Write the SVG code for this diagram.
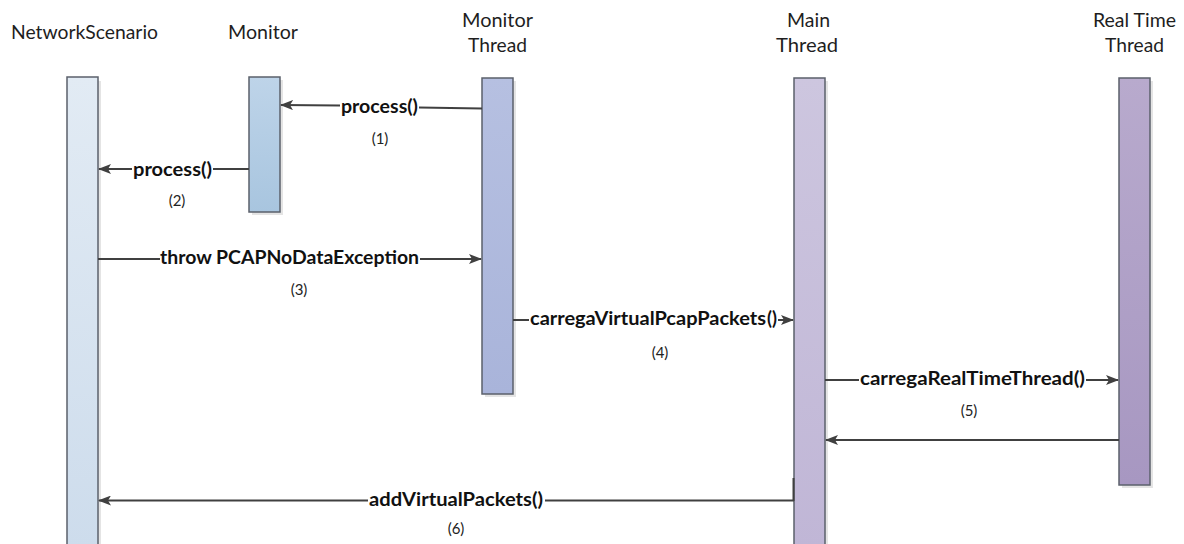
<svg xmlns="http://www.w3.org/2000/svg" width="1184" height="544" viewBox="0 0 1184 544">
  <style>
    .title { font-family: Lato, "Open Sans", "Liberation Sans", sans-serif; font-size: 19px; fill: #1e1e1e; }
    .msg { font-family: Lato, "Open Sans", "Liberation Sans", sans-serif; font-size: 19.5px; font-weight: bold; fill: #111; }
    .num { font-family: Lato, "Open Sans", "Liberation Sans", sans-serif; font-size: 15px; fill: #222; text-anchor: middle; }
    .bar { stroke: #5b606b; stroke-width: 1.5; }
    .shadow { fill: #e4e4e4; }
    .line { stroke: #404040; stroke-width: 2; fill: none; }
  </style>
  <defs>
    <marker id="arrow" viewBox="0 0 13 10" refX="12" refY="5" markerWidth="13" markerHeight="10" markerUnits="userSpaceOnUse" orient="auto">
      <path d="M0,0 L13,5 L0,10 L3,5 Z" fill="#404040"/>
    </marker>
    <linearGradient id="gNet" x1="0" y1="0" x2="0" y2="1">
      <stop offset="0" stop-color="#e2ebf4"/>
      <stop offset="1" stop-color="#cddcec"/>
    </linearGradient>
    <linearGradient id="gMon" x1="0" y1="0" x2="0" y2="1">
      <stop offset="0" stop-color="#bed4e9"/>
      <stop offset="1" stop-color="#a8c5df"/>
    </linearGradient>
    <linearGradient id="gMT" x1="0" y1="0" x2="0" y2="1">
      <stop offset="0" stop-color="#b6c0e1"/>
      <stop offset="1" stop-color="#a9b4da"/>
    </linearGradient>
    <linearGradient id="gMain" x1="0" y1="0" x2="0" y2="1">
      <stop offset="0" stop-color="#cdc6df"/>
      <stop offset="1" stop-color="#c0b6d6"/>
    </linearGradient>
    <linearGradient id="gRT" x1="0" y1="0" x2="0" y2="1">
      <stop offset="0" stop-color="#b8aacd"/>
      <stop offset="1" stop-color="#a797c1"/>
    </linearGradient>
  </defs>

  <rect width="1184" height="544" fill="#fff"/>

  <!-- Lifelines -->
  <g id="network-scenario">
    <text class="title" x="11" y="39" textLength="147" lengthAdjust="spacingAndGlyphs">NetworkScenario</text>
    <rect class="shadow" x="70" y="81" width="31" height="470"/>
    <rect class="bar" x="67" y="77" width="31" height="470" fill="url(#gNet)"/>
  </g>
  <g id="monitor">
    <text class="title" x="228" y="39" textLength="70" lengthAdjust="spacingAndGlyphs">Monitor</text>
    <rect class="shadow" x="252" y="80" width="31" height="135"/>
    <rect class="bar" x="249" y="77" width="31" height="135" fill="url(#gMon)"/>
  </g>
  <g id="monitor-thread">
    <text class="title" x="462" y="27" textLength="71" lengthAdjust="spacingAndGlyphs">Monitor</text>
    <text class="title" x="468" y="52" textLength="59" lengthAdjust="spacingAndGlyphs">Thread</text>
    <rect class="shadow" x="485" y="81" width="31" height="316"/>
    <rect class="bar" x="482" y="78" width="31" height="316" fill="url(#gMT)"/>
  </g>
  <g id="main-thread">
    <text class="title" x="787" y="27" textLength="43" lengthAdjust="spacingAndGlyphs">Main</text>
    <text class="title" x="776" y="52" textLength="62" lengthAdjust="spacingAndGlyphs">Thread</text>
    <rect class="shadow" x="797" y="81" width="31" height="470"/>
    <rect class="bar" x="794" y="78" width="31" height="470" fill="url(#gMain)"/>
  </g>
  <g id="real-time-thread">
    <text class="title" x="1093" y="27" textLength="83" lengthAdjust="spacingAndGlyphs">Real Time</text>
    <text class="title" x="1105" y="52" textLength="59" lengthAdjust="spacingAndGlyphs">Thread</text>
    <rect class="shadow" x="1122" y="81" width="31" height="407"/>
    <rect class="bar" x="1119" y="78" width="31" height="407" fill="url(#gRT)"/>
  </g>

  <!-- Messages -->
  <g id="connectors">
    <!-- (1) Monitor Thread -> Monitor -->
    <line class="line" x1="419" y1="107.5" x2="482" y2="108.5"/>
    <line class="line" x1="340" y1="105.5" x2="281" y2="105" marker-end="url(#arrow)"/>
    <!-- (2) Monitor -> NetworkScenario -->
    <line class="line" x1="249" y1="169" x2="213" y2="169"/>
    <line class="line" x1="132" y1="169" x2="99" y2="169" marker-end="url(#arrow)"/>
    <!-- (3) NetworkScenario -> Monitor Thread -->
    <line class="line" x1="98" y1="259" x2="160" y2="259"/>
    <line class="line" x1="420" y1="259" x2="481" y2="259" marker-end="url(#arrow)"/>
    <!-- (4) Monitor Thread -> Main Thread -->
    <line class="line" x1="513" y1="320" x2="529" y2="320"/>
    <line class="line" x1="778" y1="320" x2="793" y2="320" marker-end="url(#arrow)"/>
    <!-- (5) Main Thread -> Real Time Thread -->
    <line class="line" x1="825" y1="380" x2="859" y2="380"/>
    <line class="line" x1="1086" y1="380" x2="1118" y2="380" marker-end="url(#arrow)"/>
    <!-- return Real Time Thread -> Main Thread -->
    <line class="line" x1="1119" y1="440" x2="826" y2="440" marker-end="url(#arrow)"/>
    <!-- (6) Main Thread -> NetworkScenario -->
    <line class="line" x1="793.5" y1="478" x2="793.5" y2="501"/>
    <line class="line" x1="794" y1="500.5" x2="545" y2="500.5"/>
    <line class="line" x1="368" y1="500.5" x2="99" y2="500.5" marker-end="url(#arrow)"/>
  </g>

  <!-- Message labels -->
  <g id="labels">
    <text class="msg" x="341" y="113" textLength="77" lengthAdjust="spacingAndGlyphs">process()</text>
    <text class="num" x="380" y="144">(1)</text>
    <text class="msg" x="133" y="176" textLength="79" lengthAdjust="spacingAndGlyphs">process()</text>
    <text class="num" x="177" y="206">(2)</text>
    <text class="msg" x="160" y="264" textLength="259" lengthAdjust="spacingAndGlyphs">throw PCAPNoDataException</text>
    <text class="num" x="299" y="295">(3)</text>
    <text class="msg" x="530" y="325" textLength="236" lengthAdjust="spacingAndGlyphs">carregaVirtualPcapPackets</text>
    <text class="msg" x="767" y="325" font-size="12" textLength="10" lengthAdjust="spacingAndGlyphs">()</text>
    <text class="num" x="660" y="358">(4)</text>
    <text class="msg" x="860" y="385" textLength="225" lengthAdjust="spacingAndGlyphs">carregaRealTimeThread()</text>
    <text class="num" x="969" y="416">(5)</text>
    <text class="msg" x="369" y="506" textLength="174" lengthAdjust="spacingAndGlyphs">addVirtualPackets()</text>
    <text class="num" x="456" y="534">(6)</text>
  </g>
</svg>
